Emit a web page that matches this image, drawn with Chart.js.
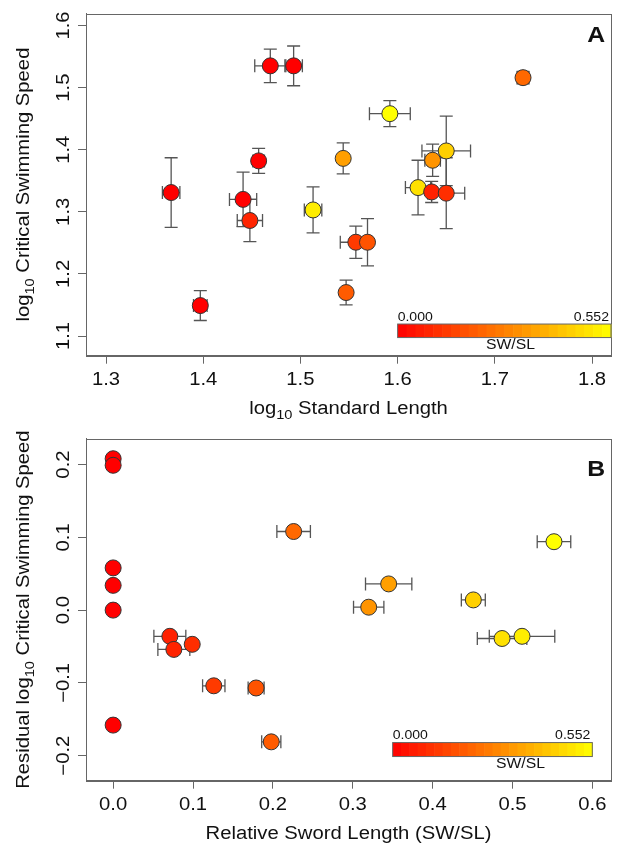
<!DOCTYPE html>
<html>
<head>
<meta charset="utf-8">
<script src="https://cdn.jsdelivr.net/npm/chart.js@4.4.1/dist/chart.umd.min.js"></script>
<style>
body{margin:0;background:#fff;}
canvas{position:absolute;left:0;}
#chartA{top:0;}
#chartB{top:425px;}
</style>
</head>
<body>
<canvas id="chartA" width="623" height="425"></canvas>
<canvas id="chartB" width="623" height="424"></canvas>
<script>
// panel A: log10 standard length vs log10 critical swimming speed
const lenA      = [1.367, 1.397, 1.441, 1.448, 1.457, 1.469, 1.493, 1.513, 1.544, 1.547, 1.557, 1.569, 1.592, 1.621, 1.635, 1.636, 1.650, 1.650, 1.729];
const lenErrA   = [0.009, 0.007, 0.014, 0.013, 0.006, 0.016, 0.009, 0.009, 0,     0,     0.016, 0,     0.021, 0.013, 0,     0.008, 0.019, 0.025, 0.006];
const speedA    = [1.331, 1.149, 1.320, 1.286, 1.382, 1.535, 1.535, 1.303, 1.386, 1.170, 1.251, 1.251, 1.458, 1.339, 1.332, 1.383, 1.330, 1.398, 1.516];
const speedErrA = [0.056, 0.024, 0.044, 0.034, 0.020, 0.027, 0.032, 0.037, 0.025, 0.020, 0.026, 0.038, 0.021, 0.044, 0.017, 0.026, 0.057, 0.056, 0.010];
const ratioA    = [0,     0,     0,     0.077, 0,     0,     0,     0.512, 0.345, 0.198, 0.126, 0.179, 0.552, 0.487, 0.071, 0.320, 0.099, 0.451, 0.226];

// panel B: relative sword length vs residual swimming speed
const ratioB    = [0,     0,     0,     0,     0,     0,      0.071,  0.076,  0.099,  0.126,  0.179,  0.198,  0.226, 0.320, 0.345, 0.451, 0.487,  0.512,  0.552];
const ratioErrB = [0,     0,     0,     0,     0,     0,      0.020,  0.020,  0.004,  0.014,  0.010,  0.012,  0.021, 0.019, 0.029, 0.015, 0.031,  0.041,  0.021];
const residB    = [0.208, 0.199, 0.058, 0.034, 0.000, -0.158, -0.036, -0.054, -0.047, -0.104, -0.107, -0.181, 0.108, 0.004, 0.036, 0.014, -0.039, -0.036, 0.094];

const xTicksA = [1.3, 1.4, 1.5, 1.6, 1.7, 1.8];
const yTicksA = [1.1, 1.2, 1.3, 1.4, 1.5, 1.6];
const xTicksB = [0.0, 0.1, 0.2, 0.3, 0.4, 0.5, 0.6];
const yTicksB = [-0.2, -0.1, 0.0, 0.1, 0.2];

const maxRatio = 0.552;
const FONT = '"Liberation Sans", Arial, sans-serif';
const SX = 1.125; // text in the figure is a bit wide

function heat(t){
  t = Math.max(0, Math.min(1, t));
  return 'rgb(255,' + Math.round(255 * t) + ',0)';
}

function drawText(ctx, parts, x, y, rot, align, size){
  ctx.save();
  ctx.translate(x, y);
  ctx.rotate(rot);
  ctx.scale(SX, 1);
  ctx.textBaseline = 'alphabetic';
  ctx.textAlign = 'left';
  let w = 0;
  parts.forEach(p => {
    ctx.font = (p.bold ? 'bold ' : '') + (p.sub ? Math.round(size * 0.72) : size) + 'px ' + FONT;
    p.w = ctx.measureText(p.t).width;
    w += p.w;
  });
  let cx = align == 'center' ? -w / 2 : (align == 'right' ? -w : 0);
  parts.forEach(p => {
    ctx.font = (p.bold ? 'bold ' : '') + (p.sub ? Math.round(size * 0.72) : size) + 'px ' + FONT;
    ctx.fillText(p.t, cx, p.sub ? size * 0.3 : 0);
    cx += p.w;
  });
  ctx.restore();
}

function fmt(v){
  let s = v.toFixed(1);
  return s.charAt(0) == '-' ? '\u2212' + s.slice(1) : s;
}

const rPlot = {
  id: 'rPlot',
  beforeDatasetsDraw(chart, args, o){
    const ctx = chart.ctx, xs = chart.scales.x, ys = chart.scales.y;
    ctx.save();
    ctx.strokeStyle = '#555';
    ctx.lineWidth = 1.3;
    const cap = 6.5;
    o.xv.forEach((xv, i) => {
      const px = xs.getPixelForValue(xv), py = ys.getPixelForValue(o.yv[i]);
      if(o.ye && o.ye[i] > 0){
        const y1 = ys.getPixelForValue(o.yv[i] - o.ye[i]), y2 = ys.getPixelForValue(o.yv[i] + o.ye[i]);
        ctx.beginPath();
        ctx.moveTo(px, y1); ctx.lineTo(px, y2);
        ctx.moveTo(px - cap, y1); ctx.lineTo(px + cap, y1);
        ctx.moveTo(px - cap, y2); ctx.lineTo(px + cap, y2);
        ctx.stroke();
      }
      if(o.xe && o.xe[i] > 0){
        const x1 = xs.getPixelForValue(xv - o.xe[i]), x2 = xs.getPixelForValue(xv + o.xe[i]);
        ctx.beginPath();
        ctx.moveTo(x1, py); ctx.lineTo(x2, py);
        ctx.moveTo(x1, py - cap); ctx.lineTo(x1, py + cap);
        ctx.moveTo(x2, py - cap); ctx.lineTo(x2, py + cap);
        ctx.stroke();
      }
    });
    ctx.restore();
  },
  afterDraw(chart, args, o){
    const ctx = chart.ctx, xs = chart.scales.x, ys = chart.scales.y, a = chart.chartArea;
    ctx.save();
    // box
    ctx.strokeStyle = '#666';
    ctx.lineWidth = 1;
    ctx.strokeRect(Math.round(a.left) + 0.5, Math.round(a.top) + 0.5, Math.round(a.right - a.left), Math.round(a.bottom - a.top));
    ctx.fillStyle = '#111';
    // tick labels
    o.xt.forEach(v => drawText(ctx, [{t: fmt(v)}], xs.getPixelForValue(v), a.bottom + 29.5, 0, 'center', 18));
    o.yt.forEach(v => drawText(ctx, [{t: fmt(v)}], 68.5, ys.getPixelForValue(v), -Math.PI / 2, 'center', 18));
    // axis titles
    drawText(ctx, o.xTitle, (a.left + a.right) / 2, a.bottom + 58, 0, 'center', 18);
    drawText(ctx, o.yTitle, 28.5, (a.top + a.bottom) / 2, -Math.PI / 2, 'center', 18);
    // panel letter
    drawText(ctx, [{t: o.letter, bold: true}], 605, o.letterY, 0, 'right', 22);
    // colour bar
    const b = o.bar;
    const bl = xs.getPixelForValue(b.x0), br = xs.getPixelForValue(b.x1);
    const bt = ys.getPixelForValue(b.y1), bb = ys.getPixelForValue(b.y0);
    const n = 24;
    for(let i = 0; i < n; i++){
      ctx.fillStyle = heat((i + 0.5) / n);
      ctx.fillRect(bl + (br - bl) * i / n, bt, (br - bl) / n + 0.6, bb - bt);
    }
    ctx.strokeStyle = '#666';
    ctx.strokeRect(bl, bt, br - bl, bb - bt);
    ctx.fillStyle = '#111';
    drawText(ctx, [{t: '0.000'}], bl, bt - 3.5, 0, 'left', 12.5);
    drawText(ctx, [{t: maxRatio.toFixed(3)}], br - 2, bt - 3.5, 0, 'right', 12.5);
    drawText(ctx, [{t: 'SW/SL'}], xs.getPixelForValue(b.lab), bb + 11.5, 0, 'center', 14);
    ctx.restore();
  }
};

function makePanel(id, H, xv, yv, xe, ye, ratios, lim, extra){
  const pts = xv.map((v, i) => ({x: v, y: yv[i]}));
  return new Chart(document.getElementById(id), {
    type: 'scatter',
    data: {
      datasets: [{
        data: pts,
        pointRadius: 8,
        pointHoverRadius: 8,
        pointBackgroundColor: ratios.map(r => heat(r / maxRatio)),
        pointBorderColor: '#333',
        pointBorderWidth: 1
      }]
    },
    options: {
      responsive: false,
      animation: false,
      events: [],
      layout: {padding: {top: 13.5, right: 12, left: 0, bottom: 0}},
      plugins: {
        legend: {display: false},
        tooltip: {enabled: false},
        rPlot: Object.assign({xv: xv, yv: yv, xe: xe, ye: ye}, extra)
      },
      scales: {
        x: {
          type: 'linear', min: lim[0], max: lim[1],
          afterBuildTicks: s => { s.ticks = extra.xt.map(v => ({value: v})); },
          afterFit: s => { s.height = H - 355.7; },
          ticks: {display: false},
          grid: {drawOnChartArea: false, tickLength: 8, color: '#666'},
          border: {color: '#666'}
        },
        y: {
          type: 'linear', min: lim[2], max: lim[3],
          afterBuildTicks: s => { s.ticks = extra.yt.map(v => ({value: v})); },
          afterFit: s => { s.width = 86; },
          ticks: {display: false},
          grid: {drawOnChartArea: false, tickLength: 8, color: '#666'},
          border: {color: '#666'}
        }
      }
    },
    plugins: [rPlot]
  });
}

makePanel('chartA', 425, lenA, speedA, lenErrA, speedErrA, ratioA, [1.2794, 1.8195, 1.0683, 1.6193], {
  xt: xTicksA, yt: yTicksA, letter: 'A', letterY: 42,
  xTitle: [{t: 'log'}, {t: '10', sub: true}, {t: ' Standard Length'}],
  yTitle: [{t: 'log'}, {t: '10', sub: true}, {t: ' Critical Swimming Speed'}],
  bar: {x0: 1.6, x1: 1.8195, y0: 1.0975, y1: 1.1193, lab: 1.716}
});

makePanel('chartB', 424, ratioB, residB, ratioErrB, null, ratioB, [-0.034, 0.6234, -0.2344, 0.2358], {
  xt: xTicksB, yt: yTicksB, letter: 'B', letterY: 51,
  xTitle: [{t: 'Relative Sword Length (SW/SL)'}],
  yTitle: [{t: 'Residual log'}, {t: '10', sub: true}, {t: ' Critical Swimming Speed'}],
  bar: {x0: 0.35, x1: 0.6, y0: -0.2012, y1: -0.182, lab: 0.51}
});
</script>
</body>
</html>
